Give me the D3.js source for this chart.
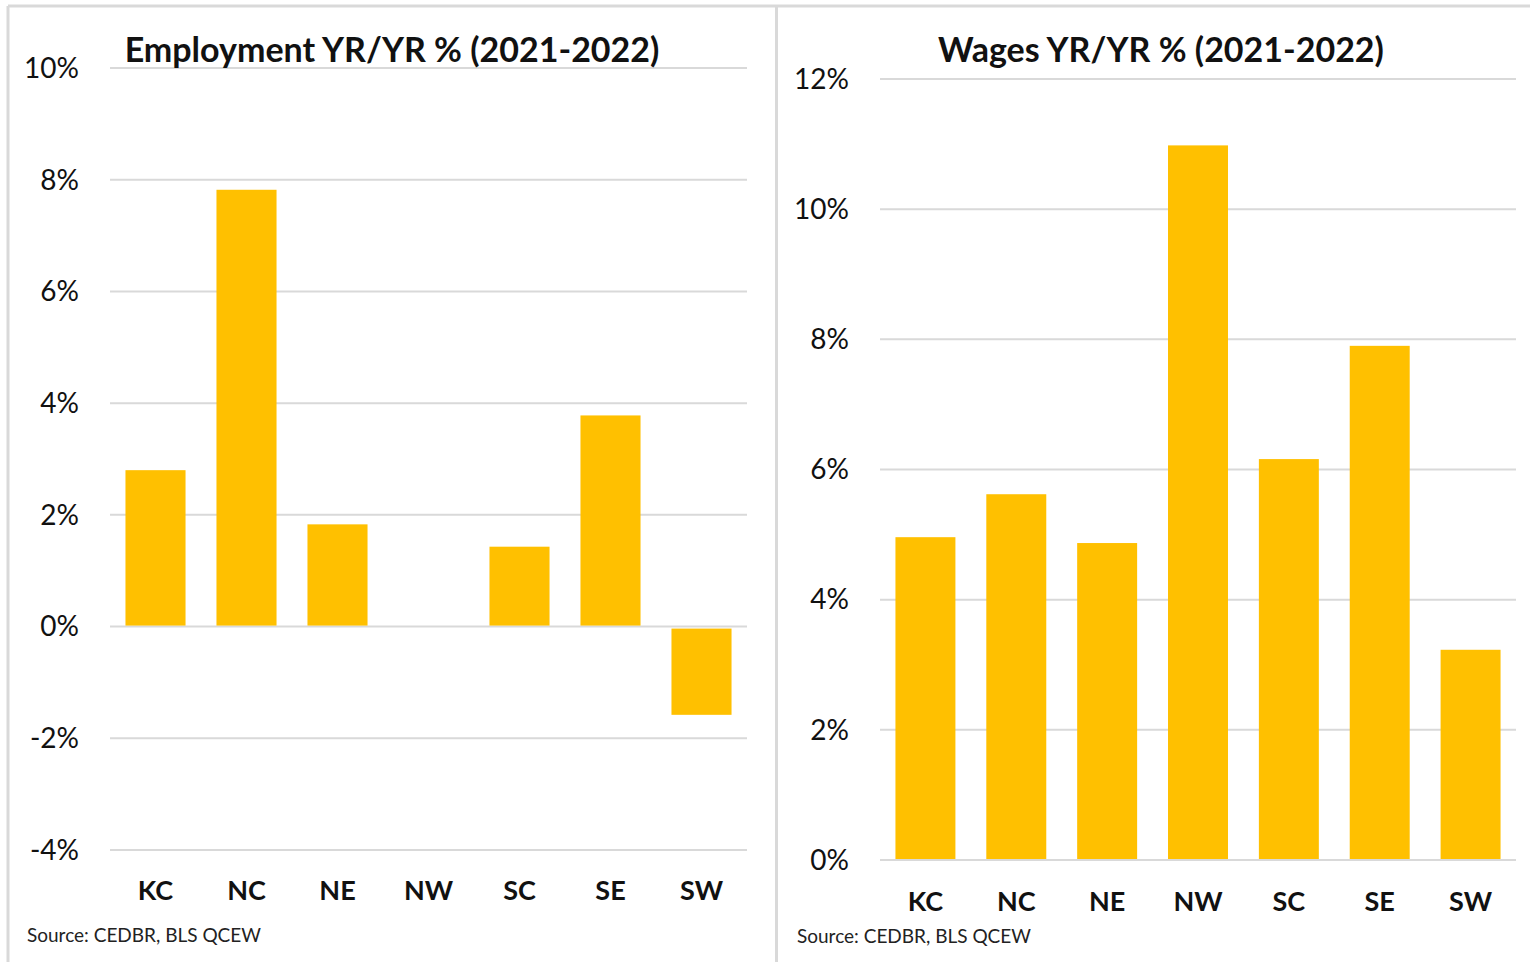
<!DOCTYPE html>
<html><head><meta charset="utf-8">
<script src="https://cdn.jsdelivr.net/npm/d3@7"></script>
<style>body{margin:0;background:#fff}svg{display:block}</style>
</head><body>
<script>
const categories = ["KC","NC","NE","NW","SC","SE","SW"];
const employment = [2.8, 7.82, 1.83, 0, 1.43, 3.78, -1.58];
const wages = [4.96, 5.62, 4.87, 10.98, 6.16, 7.90, 3.23];
const empTicks = [-4,-2,0,2,4,6,8,10];
const wageTicks = [0,2,4,6,8,10,12];
const titles = ["Employment YR/YR % (2021-2022)", "Wages YR/YR % (2021-2022)"];
const sourceText = "Source: CEDBR, BLS QCEW";

const W = 1530, H = 962;
const svg = d3.select("body").append("svg").attr("width", W).attr("height", H);
const FONT = "Lato, 'Open Sans', sans-serif";
const grid = "#d9d9d9";
const barColor = "#FFC000";

// panel borders
svg.append("line").attr("x1",8).attr("x2",8).attr("y1",6).attr("y2",H).attr("stroke",grid).attr("stroke-width",3);
svg.append("line").attr("x1",8).attr("x2",W).attr("y1",6).attr("y2",6).attr("stroke",grid).attr("stroke-width",3);
svg.append("line").attr("x1",776.5).attr("x2",776.5).attr("y1",6).attr("y2",H).attr("stroke",grid).attr("stroke-width",3);

function panel(cfg){
  const g = svg.append("g");
  const x = d3.scaleBand().domain(categories).range([cfg.x0, cfg.x1]).paddingInner(0.34).paddingOuter(0.17);
  const y = d3.scaleLinear().domain(cfg.domain).range([cfg.yBottom, cfg.yTop]);
  g.selectAll("line.grid").data(cfg.ticks).join("line")
    .attr("x1", cfg.x0).attr("x2", cfg.x1)
    .attr("y1", d=>y(d)).attr("y2", d=>y(d))
    .attr("stroke", grid).attr("stroke-width", 2);
  g.selectAll("rect").data(cfg.values).join("rect")
    .attr("x", (d,i)=>x(categories[i]))
    .attr("width", x.bandwidth())
    .attr("y", d=> d>=0 ? y(d) : y(0)+2)
    .attr("height", d=> d>=0 ? Math.max(0, y(0)-y(d)-1) : y(d)-y(0)-2)
    .attr("fill", barColor);
  g.selectAll("text.yt").data(cfg.ticks).join("text")
    .attr("x", cfg.tickX).attr("y", d=>y(d)).attr("dy","0.35em")
    .attr("text-anchor","end").attr("font-family",FONT).attr("font-size",28)
    .attr("fill","#111").text(d=>String(d)+"%");
  g.selectAll("text.xt").data(categories).join("text")
    .attr("x", d=>x(d)+x.bandwidth()/2).attr("y", cfg.catY).attr("dy","0.35em")
    .attr("text-anchor","middle").attr("font-family",FONT).attr("font-size",27).attr("font-weight","bold")
    .attr("fill","#111").text(d=>d);
  g.append("text").attr("x", cfg.titleX).attr("y", 62).attr("text-anchor","middle")
    .attr("font-family",FONT).attr("font-size",34).attr("font-weight","bold").attr("fill","#111")
    .text(cfg.title);
  g.append("text").attr("x", cfg.srcX).attr("y", cfg.srcY)
    .attr("font-family",FONT).attr("font-size",19).attr("fill","#222").text(sourceText);
}

panel({x0:110, x1:747, domain:[-4,10], yBottom:850, yTop:68, ticks:empTicks, values:employment,
  tickX:79, catY:891, title:titles[0], titleX:392, srcX:27, srcY:942});
panel({x0:880, x1:1516, domain:[0,12], yBottom:860, yTop:79, ticks:wageTicks, values:wages,
  tickX:849, catY:902, title:titles[1], titleX:1161, srcX:797, srcY:943});
</script>
</body></html>
